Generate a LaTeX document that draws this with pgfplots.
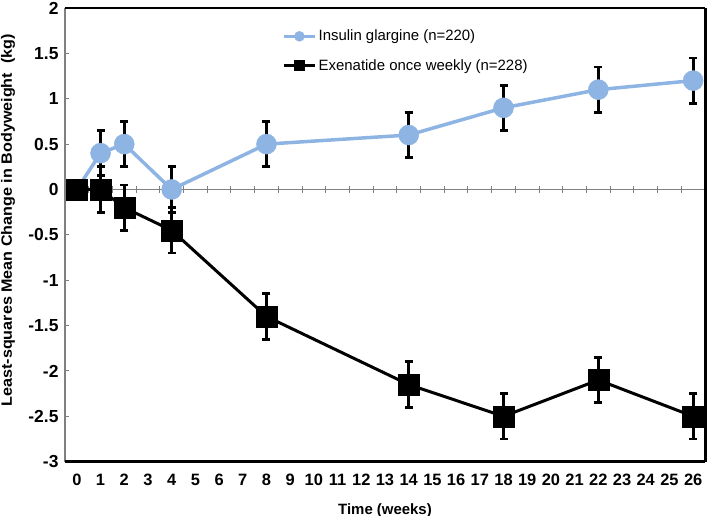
\documentclass[border=0pt]{standalone}
\usepackage{fontspec}
\setmainfont{Liberation Sans}
\usepackage{graphicx}
\usepackage{pgfplots}
\pgfplotsset{compat=1.18}
\definecolor{insblue}{RGB}{142,180,227}

\begin{document}
\begin{tikzpicture}
% background axis: grey zero line with ticks, grey left axis line
\begin{axis}[
  scale only axis, width=640bp, height=453.7bp,
  xmin=-0.5, xmax=26.5, ymin=-3, ymax=2,
  axis x line=middle, axis y line=left,
  x axis line style={-, draw=gray, line width=1.5bp},
  y axis line style={-, draw=gray, line width=2bp},
  xtick={0.5,1.5,...,26.5}, ytick=\empty, xticklabels={},
  tick align=center, major tick length=7bp,
  xtick style={gray, line width=1bp},
]
\addplot[draw=none] coordinates {(0,0)};
\end{axis}
% main axis
\begin{axis}[
  name=main,
  scale only axis, width=640bp, height=453.7bp,
  xmin=-0.5, xmax=26.5, ymin=-3, ymax=2,
  clip=false,
  axis line style={draw=none},
  xtick={0,...,26}, ytick={-3,-2.5,...,2},
  xtick pos=bottom, ytick pos=left,
  xtick style={draw=none},
  ytick style={gray, line width=1bp},
  tick align=inside, major tick length=4bp,
  /pgf/number format/assume math mode=true,
  yticklabel style={font=\bfseries\fontsize{17.5}{17.5}\selectfont, xshift=-3bp},
  xticklabel style={font=\bfseries\fontsize{16.5}{16.5}\selectfont, yshift=-9bp},
  xlabel={Time (weeks)},
  xlabel style={at={(axis description cs:0.5,0)}, anchor=north, yshift=-38bp, font=\bfseries\fontsize{15}{15}\selectfont},
  ylabel={\scalebox{1.08}[1]{Least-squares Mean Change in Bodyweight\ \ (kg)}},
  every axis y label/.style={at={([xshift=-57bp]axis description cs:0,0.532)}, rotate=90, anchor=center, font=\bfseries\fontsize{15}{15}\selectfont},
  legend style={at={(axis description cs:0.339,0.956)}, anchor=north west, draw=none, fill=none,
    font=\fontsize{15}{15}\selectfont, row sep=13bp, inner sep=0pt},
  legend cell align=left,
  legend image code/.code={\draw[#1, mark size=5bp, mark repeat=2, mark phase=2] plot coordinates {(0bp,0bp)(15.5bp,0bp)(31bp,0bp)};},
]
\draw[black, line width=2bp] (rel axis cs:0,1) -- (rel axis cs:1,1);
\draw[black, line width=3bp] (rel axis cs:1,1) -- (rel axis cs:1,0);
\draw[black, line width=2.5bp] (rel axis cs:0,0) -- (rel axis cs:1,0);

\addplot[insblue, line width=3.5bp, mark=*, mark size=10bp, mark options={fill=insblue, draw=insblue, line width=0.5bp},
  error bars/.cd, y dir=both, y explicit,
  error bar style={black, line width=2.8bp},
  error mark options={black, line width=2.8bp, mark size=4bp, rotate=90}]
coordinates {
 (0,0) +- (0,0)
 (1,0.4) +- (0,0.25)
 (2,0.5) +- (0,0.25)
 (4,0) +- (0,0.25)
 (8,0.5) +- (0,0.25)
 (14,0.6) +- (0,0.25)
 (18,0.9) +- (0,0.25)
 (22,1.1) +- (0,0.25)
 (26,1.2) +- (0,0.25)
};
\addlegendentry{Insulin glargine (n=220)}

\addplot[black, line width=3bp, mark=square*, mark size=10.5bp, mark options={fill=black, line width=0.5bp},
  error bars/.cd, y dir=both, y explicit,
  error bar style={black, line width=2.8bp},
  error mark options={black, line width=2.8bp, mark size=4bp, rotate=90}]
coordinates {
 (0,0) +- (0,0)
 (1,0) +- (0,0.25)
 (2,-0.2) +- (0,0.25)
 (4,-0.45) +- (0,0.25)
 (8,-1.4) +- (0,0.25)
 (14,-2.15) +- (0,0.25)
 (18,-2.5) +- (0,0.25)
 (22,-2.1) +- (0,0.25)
 (26,-2.5) +- (0,0.25)
};
\addlegendentry{Exenatide once weekly (n=228)}
\end{axis}
\pgfresetboundingbox
\path[use as bounding box] ([shift={(-65bp,-54.3bp)}]main.south west) rectangle ([shift={(644bp,461.7bp)}]main.south west);
\end{tikzpicture}
\end{document}
